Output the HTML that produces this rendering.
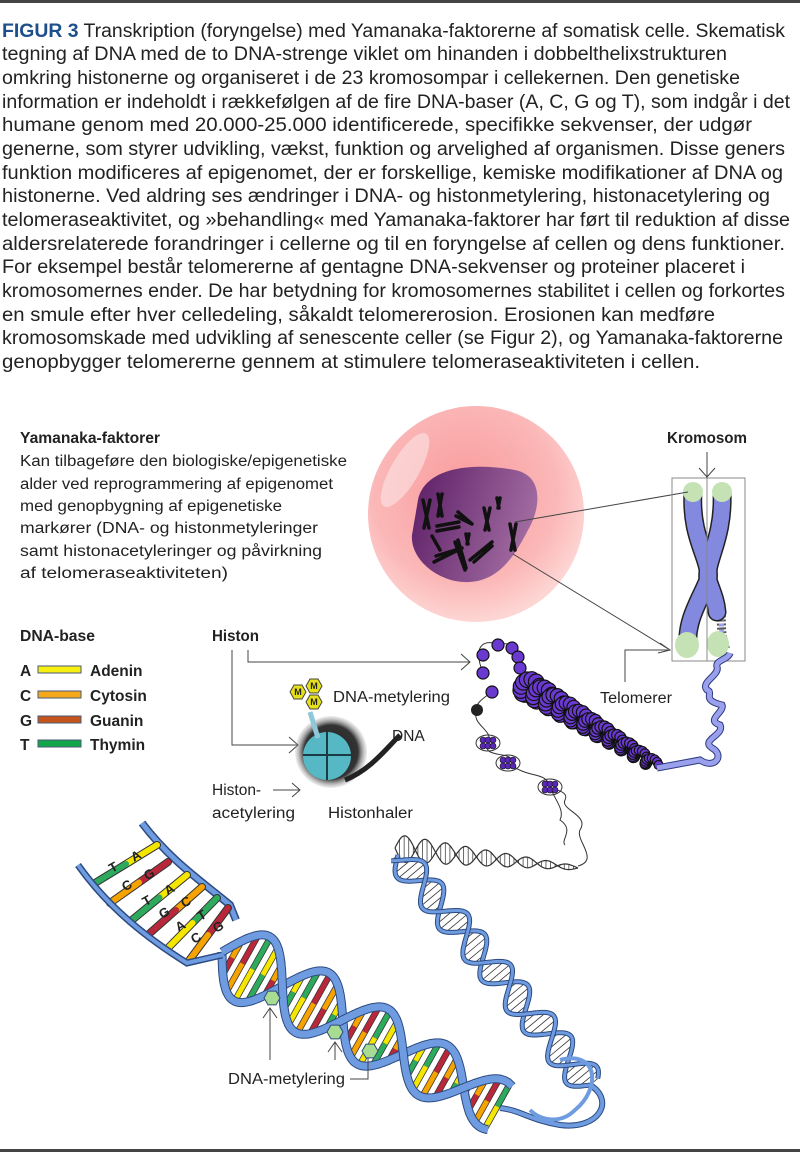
<!DOCTYPE html>
<html><head><meta charset="utf-8"><style>
html,body{margin:0;padding:0;background:#fff;width:800px;height:1155px;overflow:hidden}
svg{display:block}
text{font-family:"Liberation Sans",Arial,sans-serif;fill:#222}
.b{font-weight:bold}
</style></head><body>
<svg id="s" width="800" height="1155" viewBox="0 0 800 1155" xmlns="http://www.w3.org/2000/svg">
<defs>
<radialGradient id="cell" cx="0.45" cy="0.4" r="0.6">
<stop offset="0" stop-color="#f99a9c"/><stop offset="0.7" stop-color="#fbb7b7"/><stop offset="1" stop-color="#fdd6d4"/></radialGradient>
<linearGradient id="nuc" x1="0" y1="0" x2="1" y2="0.3">
<stop offset="0" stop-color="#5a1c64"/><stop offset="1" stop-color="#a06aa0"/></linearGradient>
<radialGradient id="nucl" cx="0.5" cy="0.5" r="0.5">
<stop offset="0" stop-color="#222"/><stop offset="0.75" stop-color="#333"/><stop offset="1" stop-color="#aaa" stop-opacity="0.2"/></radialGradient>
</defs>
<rect x="0" y="0" width="800" height="3" fill="#444"/>
<rect x="0" y="1149" width="800" height="3" fill="#444"/>

<g font-size="19">
<text x="2" y="37" textLength="783" lengthAdjust="spacingAndGlyphs"><tspan class="b" style="fill:#1d4f8c">FIGUR 3</tspan> Transkription (foryngelse) med Yamanaka-faktorerne af somatisk celle. Skematisk</text>
<text x="2" y="60" textLength="725" lengthAdjust="spacingAndGlyphs">tegning af DNA med de to DNA-strenge viklet om hinanden i dobbelthelixstrukturen</text>
<text x="2" y="84" textLength="738" lengthAdjust="spacingAndGlyphs">omkring histonerne og organiseret i de 23 kromosompar i cellekernen. Den genetiske</text>
<text x="2" y="108" textLength="788" lengthAdjust="spacingAndGlyphs">information er indeholdt i rækkefølgen af de fire DNA-baser (A, C, G og T), som indgår i det</text>
<text x="2" y="131" textLength="750" lengthAdjust="spacingAndGlyphs">humane genom med 20.000-25.000 identificerede, specifikke sekvenser, der udgør</text>
<text x="2" y="155" textLength="783" lengthAdjust="spacingAndGlyphs">generne, som styrer udvikling, vækst, funktion og arvelighed af organismen. Disse geners</text>
<text x="2" y="179" textLength="781" lengthAdjust="spacingAndGlyphs">funktion modificeres af epigenomet, der er forskellige, kemiske modifikationer af DNA og</text>
<text x="2" y="202" textLength="768" lengthAdjust="spacingAndGlyphs">histonerne. Ved aldring ses ændringer i DNA- og histonmetylering, histonacetylering og</text>
<text x="2" y="226" textLength="788" lengthAdjust="spacingAndGlyphs">telomeraseaktivitet, og »behandling« med Yamanaka-faktorer har ført til reduktion af disse</text>
<text x="2" y="250" textLength="783" lengthAdjust="spacingAndGlyphs">aldersrelaterede forandringer i cellerne og til en foryngelse af cellen og dens funktioner.</text>
<text x="2" y="273" textLength="743" lengthAdjust="spacingAndGlyphs">For eksempel består telomererne af gentagne DNA-sekvenser og proteiner placeret i</text>
<text x="2" y="297" textLength="783" lengthAdjust="spacingAndGlyphs">kromosomernes ender. De har betydning for kromosomernes stabilitet i cellen og forkortes</text>
<text x="2" y="321" textLength="713" lengthAdjust="spacingAndGlyphs">en smule efter hver celledeling, såkaldt telomererosion. Erosionen kan medføre</text>
<text x="2" y="344" textLength="781" lengthAdjust="spacingAndGlyphs">kromosomskade med udvikling af senescente celler (se Figur 2), og Yamanaka-faktorerne</text>
<text x="2" y="368" textLength="698" lengthAdjust="spacingAndGlyphs">genopbygger telomererne gennem at stimulere telomeraseaktiviteten i cellen.</text>
</g>

<g font-size="15.5">
<text x="20" y="443" class="b" textLength="140" lengthAdjust="spacingAndGlyphs">Yamanaka-faktorer</text>
<text x="20" y="466" textLength="327" lengthAdjust="spacingAndGlyphs">Kan tilbageføre den biologiske/epigenetiske</text>
<text x="20" y="489" textLength="313" lengthAdjust="spacingAndGlyphs">alder ved reprogrammering af epigenomet</text>
<text x="20" y="511" textLength="262" lengthAdjust="spacingAndGlyphs">med genopbygning af epigenetiske</text>
<text x="20" y="533" textLength="298" lengthAdjust="spacingAndGlyphs">markører (DNA- og histonmetyleringer</text>
<text x="20" y="556" textLength="302" lengthAdjust="spacingAndGlyphs">samt histonacetyleringer og påvirkning</text>
<text x="20" y="578" textLength="208" lengthAdjust="spacingAndGlyphs">af telomeraseaktiviteten)</text>

<text x="20" y="641" class="b" textLength="75" lengthAdjust="spacingAndGlyphs">DNA-base</text>
<text x="212" y="641" class="b" textLength="47" lengthAdjust="spacingAndGlyphs">Histon</text>
<text x="667" y="443" class="b" textLength="80" lengthAdjust="spacingAndGlyphs">Kromosom</text>

<g class="b">
<text x="20" y="676">A</text><text x="20" y="701">C</text><text x="20" y="726">G</text><text x="20" y="750">T</text>
<text x="90" y="676">Adenin</text><text x="90" y="701">Cytosin</text><text x="90" y="726">Guanin</text><text x="90" y="750">Thymin</text>
</g>
<rect x="38" y="666" width="43" height="7" fill="#f6ef10" stroke="#4a5a7a" stroke-width="1"/>
<rect x="38" y="691" width="43" height="7" fill="#f5a81a" stroke="#4a5a7a" stroke-width="1"/>
<rect x="38" y="716" width="43" height="7" fill="#c4541a" stroke="#4a5a7a" stroke-width="1"/>
<rect x="38" y="740" width="43" height="7" fill="#12a64a" stroke="#4a5a7a" stroke-width="1"/>

<text x="333" y="702" textLength="117" lengthAdjust="spacingAndGlyphs">DNA-metylering</text>
<text x="392" y="741">DNA</text>
<text x="212" y="795">Histon-</text>
<text x="212" y="818" textLength="83" lengthAdjust="spacingAndGlyphs">acetylering</text>
<text x="328" y="818" textLength="85" lengthAdjust="spacingAndGlyphs">Histonhaler</text>
<text x="600" y="703" textLength="72" lengthAdjust="spacingAndGlyphs">Telomerer</text>
<text x="228" y="1084" textLength="117" lengthAdjust="spacingAndGlyphs">DNA-metylering</text>
</g>

<!-- cell -->
<circle cx="476" cy="514" r="108" fill="url(#cell)"/>
<ellipse cx="405" cy="470" rx="14" ry="42" transform="rotate(30 405 470)" fill="#fce4e4" opacity="0.6"/>
<path d="M418,500 C425,468 470,462 515,470 C545,476 540,510 528,530 C515,555 500,580 470,582 C440,584 410,560 412,535 Z" fill="url(#nuc)"/>
<g stroke="#111" stroke-width="3.5" stroke-linecap="round" fill="none">
<path d="M423,500l6,28M430,500l-6,28"/><path d="M438,494l4,22M442,494l-4,22"/>
<path d="M437,526l22,-4M437,531l22,-4"/><path d="M456,516l16,8M458,512l14,12"/>
<path d="M484,508l5,22M490,508l-5,22"/><path d="M497,498l2,10M500,498l-2,10"/>
<path d="M510,524l5,26M516,524l-5,26"/><path d="M432,536l8,14"/>
<path d="M434,562l28,-14M436,556l26,-8"/><path d="M455,542l10,28M458,540l8,28"/>
<path d="M470,560l22,-18M474,562l18,-16"/><path d="M466,534l2,10M469,534l-2,10"/>
</g>
<!-- chromosome -->
<path d="M712,590 C728,605 716,625 726,650" fill="none" stroke="#555" stroke-width="9" stroke-dasharray="2 2"/>
<path d="M712,590 C728,605 716,625 726,650" fill="none" stroke="#9aa0ec" stroke-width="5" stroke-dasharray="3 3"/>
<g fill="none" stroke-linecap="round">
<path d="M693,492 C690,540 712,560 708,580 C700,600 686,620 688,645" stroke="#222" stroke-width="19"/>
<path d="M722,492 C724,540 705,560 708,580 C712,592 716,600 717,612" stroke="#222" stroke-width="19"/>
<path d="M693,492 C690,540 712,560 708,580 C700,600 686,620 688,645" stroke="#8489e0" stroke-width="16"/>
<path d="M722,492 C724,540 705,560 708,580 C712,592 716,600 717,612" stroke="#8489e0" stroke-width="16"/>
</g>
<ellipse cx="693" cy="492" rx="10" ry="10" fill="#c4e2b4"/>
<ellipse cx="722" cy="492" rx="10" ry="10" fill="#c4e2b4"/>
<ellipse cx="687" cy="645" rx="12" ry="13" fill="#c4e2b4"/>
<ellipse cx="718" cy="644" rx="11" ry="13" fill="#c4e2b4"/>
<!-- connectors -->
<g stroke="#444" stroke-width="1" fill="none">
<line x1="515" y1="522" x2="688" y2="492"/>
<line x1="513" y1="554" x2="670" y2="650"/>
<path d="M660,643l10,7l-12,3"/>
<path d="M625,682V650H668"/>
<rect x="672" y="478" width="73" height="183" stroke="#888"/>
<line x1="707" y1="478" x2="707" y2="661" stroke="#888"/>
<line x1="707" y1="452" x2="707" y2="478"/>
<path d="M699,468l8,9l8,-9"/>
<path d="M232,650V745H298M289,737l9,8l-9,8"/>
<path d="M248,650V662H470M461,654l9,8l-9,8"/>
<path d="M273,790H300M292,783l8,7l-8,7"/>
</g>

<!-- nucleosome -->
<circle cx="331" cy="752" r="36" fill="url(#nucl)"/>
<path d="M345,780 C370,770 385,750 400,735" stroke="#222" stroke-width="5" fill="none"/>
<circle cx="327" cy="756" r="24" fill="#56b8c4"/>
<path d="M303,755H351M327,732V780" stroke="#1b3b44" stroke-width="2"/>
<path d="M310,712L318,738" stroke="#8fc8d8" stroke-width="5"/>
<g fill="#e6e019" stroke="#444" stroke-width="1">
<polygon points="290,692 294,685 302,685 306,692 302,699 294,699"/>
<polygon points="306,686 310,679 318,679 322,686 318,693 310,693"/>
<polygon points="306,702 310,695 318,695 322,702 318,709 310,709"/>
</g>
<g font-size="9" text-anchor="middle" style="font-weight:bold"><text x="298" y="695">M</text><text x="314" y="689">M</text><text x="314" y="705">M</text></g>

<g id="gen"></g>
<g stroke="#444" stroke-width="1" fill="none">
<path d="M270,1060V1008M263,1018l7,-10l7,10"/>
<path d="M335,1060V1042M328,1052l7,-10l7,10"/>
<path d="M350,1079H368V1058"/>
</g>
</svg>
<script>
var g=document.getElementById('gen'),NS='http://www.w3.org/2000/svg';
function el(n,a){var e=document.createElementNS(NS,n);for(var k in a)e.setAttribute(k,a[k]);g.appendChild(e);return e;}
function pts(a){return a.map(function(p){return p[0].toFixed(1)+','+p[1].toFixed(1)}).join(' ')}
var cols=['#f5e600','#f5a300','#b8283a','#2eaa5c'];
function helix(A,B,halves,amp0,amp1,sw,rung,colored,phase,off){
 var dx=B[0]-A[0],dy=B[1]-A[1],L=Math.hypot(dx,dy),nx=-dy/L,ny=dx/L,s1=[],s2=[];
 var N=300;
 for(var i=0;i<=N;i++){var t=i/N,a=amp0+(amp1-amp0)*t,ph=phase+Math.PI*halves*t,o=a*Math.sin(ph),o2=a*Math.sin(ph+off);
  var cx=A[0]+dx*t,cy=A[1]+dy*t;s1.push([cx+nx*o,cy+ny*o]);s2.push([cx+nx*o2,cy+ny*o2]);}
 var k=0;
 for(var i=0;i<=N;i+=rung){var p=s1[i],q=s2[i];k++;
  if(colored){var c=cols[(k*3)%4],c2=cols[3-((k*3)%4)],m=[(p[0]+q[0])/2,(p[1]+q[1])/2];
   el('line',{x1:p[0],y1:p[1],x2:q[0],y2:q[1],stroke:'#333','stroke-width':6.5});
   el('line',{x1:p[0],y1:p[1],x2:m[0],y2:m[1],stroke:c,'stroke-width':5});
   el('line',{x1:m[0],y1:m[1],x2:q[0],y2:q[1],stroke:c2,'stroke-width':5});}
  else el('line',{x1:p[0],y1:p[1],x2:q[0],y2:q[1],stroke:'#333','stroke-width':0.8});}
 [s1,s2].forEach(function(s){el('polyline',{points:pts(s),fill:'none',stroke:'#2b4a80','stroke-width':sw+2});
  el('polyline',{points:pts(s),fill:'none',stroke:'#6f9ce0','stroke-width':sw});});
}
(function(){var A=[395,848],B=[578,868],s1=[],s2=[];for(var i=0;i<=120;i++){var t=i/120,a=12*(1-t)+2,x=A[0]+(B[0]-A[0])*t,y=A[1]+(B[1]-A[1])*t;s1.push([x,y+a*Math.sin(t*Math.PI*9)]);s2.push([x,y-a*Math.sin(t*Math.PI*9)]);if(i%3==0)el('line',{x1:s1[i][0],y1:s1[i][1],x2:s2[i][0],y2:s2[i][1],stroke:'#444','stroke-width':0.8});}
el('polyline',{points:pts(s1),fill:'none',stroke:'#333','stroke-width':1.2});el('polyline',{points:pts(s2),fill:'none',stroke:'#333','stroke-width':1.2});})();
el('path',{d:'M578,866 C600,860 575,840 580,830 C590,815 560,810 565,800 C570,790 550,790 548,785',fill:'none',stroke:'#333','stroke-width':1});
helix([398,855],[590,1085],9,15,17,3,6,false,0,Math.PI*0.8);
el('path',{d:'M590,1085 C615,1100 600,1130 560,1125 C530,1120 520,1110 500,1108',fill:'none',stroke:'#2b4a80','stroke-width':6});
el('path',{d:'M590,1085 C615,1100 600,1130 560,1125 C530,1120 520,1110 500,1108',fill:'none',stroke:'#6f9ce0','stroke-width':4});
el('path',{d:'M560,1060 C600,1050 600,1090 575,1110 C560,1125 540,1120 530,1110',fill:'none',stroke:'#6f9ce0','stroke-width':4});
helix([222,952],[500,1108],4.6,38,26,7,11,true,0,Math.PI);
el('path',{d:'M142,823 C170,860 200,880 230,905 L236,920',fill:'none',stroke:'#2b4a80','stroke-width':8});
el('path',{d:'M142,823 C170,860 200,880 230,905 L236,920',fill:'none',stroke:'#6f9ce0','stroke-width':5});
var R=[[157,845,95,883,0,3,'A','T'],[168,862,110,903,2,1,'G','C'],[187,875,132,920,0,3,'A','T'],[202,887,150,933,1,2,'C','G'],[217,898,168,948,3,0,'T','A'],[228,908,188,962,2,1,'G','C']];
R.forEach(function(r){var m=[(r[0]+r[2])/2,(r[1]+r[3])/2];
 el('line',{x1:r[0],y1:r[1],x2:r[2],y2:r[3],stroke:'#333','stroke-width':8,'stroke-linecap':'round'});
 el('line',{x1:r[0],y1:r[1],x2:m[0],y2:m[1],stroke:cols[r[4]],'stroke-width':6,'stroke-linecap':'round'});
 el('line',{x1:m[0],y1:m[1],x2:r[2],y2:r[3],stroke:cols[r[5]],'stroke-width':6,'stroke-linecap':'round'});
 var t1=el('text',{x:m[0]+8,y:m[1]-2,'font-size':13,'font-weight':'bold',transform:'rotate(-30 '+(m[0]+8)+' '+(m[1]-2)+')'});t1.textContent=r[6];
 var t2=el('text',{x:m[0]-14,y:m[1]+9,'font-size':13,'font-weight':'bold',transform:'rotate(-30 '+(m[0]-14)+' '+(m[1]+9)+')'});t2.textContent=r[7];});
el('path',{d:'M78,865 C110,910 150,940 187,963 L222,955',fill:'none',stroke:'#2b4a80','stroke-width':7});
el('path',{d:'M78,865 C110,910 150,940 187,963 L222,955',fill:'none',stroke:'#6f9ce0','stroke-width':4});
[[272,998],[335,1032],[370,1051]].forEach(function(p){var s=[];for(var k=0;k<6;k++){var a=Math.PI/3*k;s.push([p[0]+8*Math.cos(a),p[1]+8*Math.sin(a)]);}el('polygon',{points:pts(s),fill:'#a8dc90',stroke:'#2b4a80','stroke-width':1});});
el('path',{d:'M483,673 C470,640 490,640 498,645 C510,640 520,650 520,668 M492,692 C480,700 475,705 477,710 C470,725 495,730 488,743 C480,760 520,750 508,763 C530,780 545,770 550,787 C555,800 565,810 560,820 C575,830 560,840 565,845',fill:'none',stroke:'#333','stroke-width':1});
[[488,743],[508,763],[550,787]].forEach(function(p){el('ellipse',{cx:p[0],cy:p[1],rx:12,ry:8,fill:'none',stroke:'#333','stroke-width':1});for(var k=0;k<6;k++)el('circle',{cx:p[0]-5+(k%3)*5,cy:p[1]-3+Math.floor(k/3)*6,r:3,fill:'#5a28b8',stroke:'#111','stroke-width':0.6});});
[[483,655],[498,645],[512,648],[518,657],[520,668],[483,673],[492,692]].forEach(function(p){el('circle',{cx:p[0],cy:p[1],r:6,fill:'#6a3ad0',stroke:'#111','stroke-width':1.2});});
el('circle',{cx:477,cy:710,r:6,fill:'#222'});
for(var i=0;i<=130;i++){var t=i/130,x=522+(655-522)*t,y=683+(765-683)*t,a=12*(1-t*0.5),ph=t*Math.PI*22;
 el('circle',{cx:x+a*Math.cos(ph)*0.6,cy:y+a*Math.sin(ph)*0.8,r:8-3.5*t,fill:'#6a3ad0',stroke:'#111','stroke-width':1.2});}
var bc='M657,768 L700,760 C715,770 725,755 712,748 C700,740 725,735 720,725 C705,720 725,712 722,705 C700,700 715,692 707,690 C700,682 720,675 717,667 C715,660 728,660 730,653';
el('path',{d:bc,fill:'none',stroke:'#2b3a80','stroke-width':7});
el('path',{d:bc,fill:'none',stroke:'#9aa0ec','stroke-width':5});
</script>
</body></html>
